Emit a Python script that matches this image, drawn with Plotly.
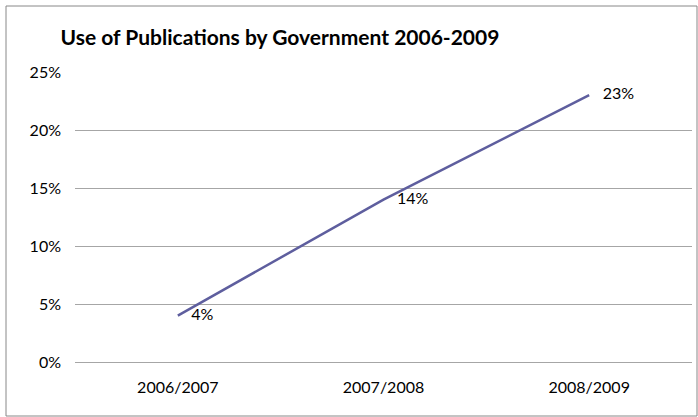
import plotly.graph_objects as go

categories = ["2006/2007", "2007/2008", "2008/2009"]
values = [0.04, 0.14, 0.23]
value_labels = ["4%", "14%", "23%"]
title_text = "Use of Publications by Government 2006-2009"

W, H = 698, 417
ml, mr, mt, mb = 75, 6, 72, 55
pw, ph = W - ml - mr, H - mt - mb

fig = go.Figure()
fig.add_trace(go.Scatter(
    x=categories, y=values, mode="lines+markers+text",
    line=dict(color="#5E5E9E", width=2.5),
    marker=dict(size=20, color="rgba(0,0,0,0)"),
    text=value_labels, textposition="middle right",
    textfont=dict(family="Lato, Carlito, sans-serif", size=16, color="#000000"),
    cliponaxis=False, showlegend=False, hoverinfo="skip",
))

def px_to_paper_x(px):
    return (px - ml) / pw

def px_to_paper_y(py):
    return (H - mb - py) / ph

fig.add_shape(type="rect", xref="paper", yref="paper",
              x0=px_to_paper_x(6), x1=px_to_paper_x(697),
              y0=px_to_paper_y(416), y1=px_to_paper_y(6),
              line=dict(color="#888888", width=1), fillcolor="rgba(0,0,0,0)")

fig.update_layout(
    width=W, height=H,
    margin=dict(l=ml, r=mr, t=mt, b=mb),
    paper_bgcolor="white", plot_bgcolor="white",
    font=dict(family="Lato, Carlito, sans-serif", size=16, color="#000000"),
    title=dict(text="<b>" + title_text + "</b>", x=280 / W, xanchor="center",
               y=1 - 38 / H, yanchor="middle",
               font=dict(family="Lato, Carlito, sans-serif", size=21, color="#000000")),
    xaxis=dict(type="category", range=[-0.5, 2.5], showgrid=False, showline=False,
               zeroline=False, ticks="", tickfont=dict(size=16), ticklabelstandoff=14),
    yaxis=dict(range=[0, 0.25], dtick=0.05, tickformat=".0%", showgrid=True,
               gridcolor="#A6A6A6", gridwidth=1, zeroline=True,
               zerolinecolor="#A6A6A6", zerolinewidth=1, showline=False,
               ticks="", tickfont=dict(size=16), ticklabelstandoff=13),
)

fig.write_html("out.html", config={"displayModeBar": False},
               post_script="document.body.style.margin='0';")
